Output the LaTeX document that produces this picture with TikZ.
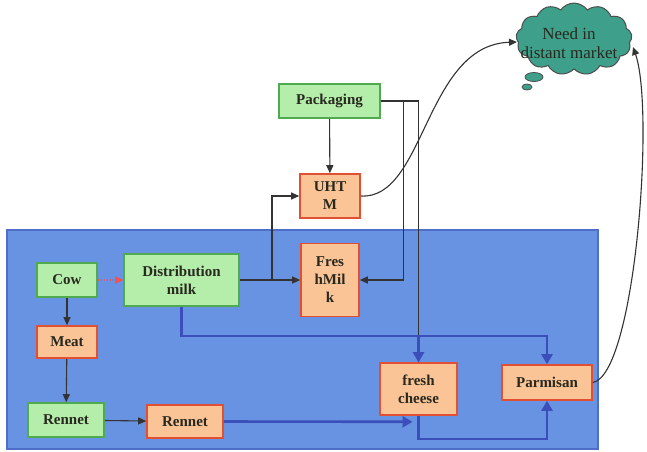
\documentclass[tikz,border=0pt]{standalone}
\usepackage{fontspec}
\setmainfont{Liberation Serif}
\usetikzlibrary{shapes.symbols,shapes.geometric,arrows.meta,calc}
\definecolor{bgblue}{RGB}{104,146,226}
\definecolor{bgedge}{RGB}{78,110,200}
\definecolor{gfill}{RGB}{180,238,170}
\definecolor{gline}{RGB}{80,170,80}
\definecolor{ofill}{RGB}{250,196,150}
\definecolor{oline}{RGB}{225,80,50}
\definecolor{cfill}{RGB}{62,160,138}
\definecolor{flowblue}{RGB}{60,78,185}
\definecolor{txt}{RGB}{40,40,30}
\tikzset{
  box/.style={draw, line width=1.6pt, align=center, inner sep=0pt, text=txt,
    font=\bfseries\fontsize{15}{18}\selectfont},
  gbox/.style={box, draw=gline, fill=gfill},
  obox/.style={box, draw=oline, fill=ofill},
  dk/.style={draw=black!80, line width=1.1pt, -{Triangle[length=8pt,width=7pt]}},
  bl/.style={draw=flowblue, line width=2.6pt, -{Triangle[length=10pt,width=11pt]}},
  blline/.style={draw=flowblue, line width=2.6pt},
  rd/.style={draw=red!70!white, line width=1.1pt, dotted, -{Triangle[length=8pt,width=7pt]}},
}
\begin{document}
\begin{tikzpicture}[x=1pt,y=-1pt]
\useasboundingbox (0,0) rectangle (647,451);
% background panel
\fill[bgblue, draw=bgedge, line width=1.5pt] (7,230) rectangle (598,449);

% nodes
\node[gbox, minimum width=101pt, minimum height=34pt] (pack) at (329.5,101) {Packaging};
\node[obox, minimum width=60pt, minimum height=44pt] (uht) at (330,196) {UHT\\M};
\node[obox, minimum width=58pt, minimum height=73pt] (fresh) at (330,280) {Fres\\hMil\\k};
\node[gbox, minimum width=60pt, minimum height=34pt] (cow) at (67,280) {Cow};
\node[gbox, minimum width=115pt, minimum height=52pt] (dist) at (181.5,280) {Distribution\\milk};
\node[obox, minimum width=60pt, minimum height=32pt] (meat) at (67,342) {Meat};
\node[gbox, minimum width=76pt, minimum height=34pt] (rennetg) at (66,420) {Rennet};
\node[obox, minimum width=76pt, minimum height=33pt] (renneto) at (185,421.5) {Rennet};
\node[obox, minimum width=77pt, minimum height=52pt] (cheese) at (418.5,389) {fresh\\cheese};
\node[obox, minimum width=90pt, minimum height=35pt] (parm) at (547,382.5) {Parmisan};

% cloud
\node[cloud, cloud puffs=13, cloud puff arc=110, draw=black!70, line width=1pt, fill=cfill,
      minimum width=116pt, minimum height=72pt, cloud ignores aspect, inner sep=0pt] (cloud) at (574,39) {};
\node[align=center, text=txt, font=\fontsize{17}{19}\selectfont] (cloudtxt) at (569,43) {Need in\\distant market};
\node[ellipse, draw=black!70, fill=cfill, line width=0.8pt, minimum width=18pt, minimum height=9pt, inner sep=0pt] (bub1) at (534,77) {};
\node[ellipse, draw=black!70, fill=cfill, line width=0.8pt, minimum width=10pt, minimum height=6pt, inner sep=0pt] (bub2) at (527,87) {};

% dark connectors
\draw[dk] (pack) -- (uht);
\draw[dk] (pack.east) -| ($(fresh.east)+(44,0)$) -- (fresh.east);
\draw[dk] (pack.east) -| (cheese.north);
\draw[dk] (dist.east) -- (fresh.west);
\coordinate (split) at (272,280);
\draw[dk] (split) |- (uht.west);
\draw[rd] (cow.east) -- (dist.west);
\draw[dk] (cow) -- (meat);
\draw[dk] (meat) -- (rennetg);
\draw[dk] (rennetg) -- (renneto);

% blue flows
\coordinate (j) at (418.5,336);
\draw[blline] (dist.south) |- (j);
\draw[bl] (j) -| (parm.north);
\draw[bl] (j) -- (cheese.north);
\draw[bl] (renneto.east) -- ($(cheese.south)+(-6,6)$);
\draw[bl] (cheese.south) -- ++(0,23) -| (parm.south);

% curves to the cloud
\coordinate (cin) at (517,42);
\coordinate (cin2) at (633,47);
\draw[dk] (uht.east) .. controls (425,200) and (425,45) .. (cin);
\draw[dk] (parm.east) .. controls (635,375) and (655,110) .. (cin2);
\end{tikzpicture}
\end{document}
